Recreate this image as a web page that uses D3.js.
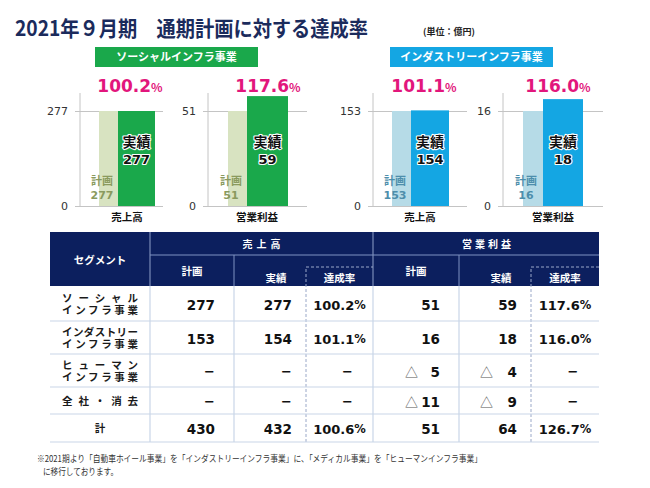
<!DOCTYPE html>
<html><head><meta charset="utf-8">
<script src="https://cdn.jsdelivr.net/npm/d3@7"></script>
<style>
html,body{margin:0;padding:0;background:#fff;}
svg{display:block;font-family:"Noto Sans CJK JP","Noto Sans",sans-serif;}
</style></head>
<body><svg id="c" width="650" height="488"></svg>
<script>
// ---------- data ----------
const titleText = "2021年９月期　通期計画に対する達成率";
const unitText = "(単位：億円)";
const segmentNames = ["ソーシャルインフラ事業", "インダストリーインフラ事業"];
const metricNames = ["売上高", "営業利益", "売上高", "営業利益"];
const planValues = [277, 51, 153, 16];
const actualValues = [277, 59, 154, 18];
const rateValues = ["100.2", "117.6", "101.1", "116.0"];

const rowLabels = [["ソーシャル", "インフラ事業"], ["インダストリー", "インフラ事業"], ["ヒューマン", "インフラ事業"], ["全社・消去"], ["計"]];
const salesPlan = [277, 153, null, null, 430];
const salesActual = [277, 154, null, null, 432];
const salesRate = ["100.2%", "101.1%", null, null, "100.6%"];
const opPlan = [51, 16, -5, -11, 51];
const opActual = [59, 18, -4, -9, 64];
const opRate = ["117.6%", "116.0%", null, null, "126.7%"];
const footnoteLines = ["※2021期より「自動車ホイール事業」を「インダストリーインフラ事業」に、「メディカル事業」を「ヒューマンインフラ事業」", "に移行しております。"];

// ---------- styles ----------
const navy = "#0c1f5e", pink = "#e2167c";
const green = "#1aa84b", greenLight = "#d8e3c1", greenText = "#8a9a5e";
const blue = "#14a6e3", blueLight = "#b6dbe7", blueText = "#4d8eab";
const numFont = "'DejaVu Sans', Verdana, sans-serif";

const svg = d3.select("#c");

// title
svg.append("text").attr("x", 15).attr("y", 36).attr("font-size", 21).attr("font-weight", 700)
  .attr("fill", "#1b2b5c").attr("textLength", 353).attr("lengthAdjust", "spacingAndGlyphs").text(titleText);
svg.append("text").attr("x", 423).attr("y", 35).attr("font-size", 9).attr("font-weight", 700)
  .attr("fill", "#222").attr("textLength", 52).attr("lengthAdjust", "spacingAndGlyphs").text(unitText);

// segment label boxes
const boxes = [{x: 95, color: green}, {x: 390, color: blue}];
boxes.forEach((b, i) => {
  svg.append("rect").attr("x", b.x).attr("y", 47).attr("width", 163).attr("height", 20).attr("fill", b.color);
  svg.append("text").attr("x", b.x + 81.5).attr("y", 61).attr("text-anchor", "middle")
    .attr("font-size", 11).attr("font-weight", 700).attr("fill", "#fff").text(segmentNames[i]);
});

// panels
const panels = [
  {axisX: 80, gridEnd: 163, planX: 99, planW: 19, actW: 37, pctX: 130, catX: 127, seg: 0},
  {axisX: 208, gridEnd: 307, planX: 228, planW: 19, actW: 41, pctX: 268, catX: 257, seg: 0},
  {axisX: 373, gridEnd: 467, planX: 392, planW: 19, actW: 38, pctX: 424, catX: 420, seg: 1},
  {axisX: 503, gridEnd: 603, planX: 523, planW: 20, actW: 40, pctX: 558, catX: 553, seg: 1}
];
panels.forEach((p, i) => {
  const g = svg.append("g");
  const y = d3.scaleLinear().domain([0, planValues[i]]).range([206, 111]);
  const dark = p.seg === 0 ? green : blue;
  const light = p.seg === 0 ? greenLight : blueLight;
  const ptxt = p.seg === 0 ? greenText : blueText;
  const gridStart = p.axisX - 5;
  const ax = g.append("g").attr("transform", `translate(${gridStart},0)`)
    .call(d3.axisLeft(y).tickValues([0, planValues[i]]).tickSize(-(p.gridEnd - gridStart)).tickPadding(7));
  ax.select(".domain").remove();
  ax.selectAll("line").attr("stroke", "#c4c4c4");
  ax.selectAll("text").attr("font-family", numFont).attr("font-size", 11).attr("fill", "#333");
  g.append("line").attr("x1", p.axisX).attr("x2", p.axisX).attr("y1", 93).attr("y2", 206).attr("stroke", "#c4c4c4");
  // bars
  g.append("rect").attr("x", p.planX).attr("width", p.planW)
    .attr("y", y(planValues[i])).attr("height", y(0) - y(planValues[i])).attr("fill", light);
  g.append("rect").attr("x", p.planX + p.planW).attr("width", p.actW)
    .attr("y", y(actualValues[i])).attr("height", y(0) - y(actualValues[i])).attr("fill", dark);
  // pct
  const t = g.append("text").attr("x", p.pctX).attr("y", 92).attr("text-anchor", "middle")
    .attr("fill", pink).attr("font-weight", 700).attr("font-family", numFont);
  t.append("tspan").attr("font-size", 17).text(rateValues[i]);
  t.append("tspan").attr("font-size", 12).attr("font-family", "'Noto Sans CJK JP'").text("%");
  // inner labels
  const ac = p.planX + p.planW + p.actW / 2;
  [["実績", 147, "'Noto Sans CJK JP'", 14], [String(actualValues[i]), 164, numFont, 13]].forEach(([s, yy, f, fs]) => {
    g.append("text").attr("x", ac).attr("y", yy).attr("text-anchor", "middle").attr("font-size", fs)
      .attr("font-weight", 700).attr("font-family", f).attr("fill", "#111")
      .attr("stroke", "#fff").attr("stroke-width", 2.2).attr("paint-order", "stroke").attr("stroke-linejoin", "round").text(s);
  });
  [["計画", 185, "'Noto Sans CJK JP'"], [String(planValues[i]), 199, numFont]].forEach(([s, yy, f]) => {
    g.append("text").attr("x", p.planX + 3).attr("y", yy).attr("text-anchor", "middle").attr("font-size", 11)
      .attr("font-weight", 700).attr("font-family", f).attr("fill", ptxt).text(s);
  });
  g.append("text").attr("x", p.catX).attr("y", 221).attr("text-anchor", "middle").attr("font-size", 10.5)
    .attr("font-weight", 700).attr("fill", "#111").text(metricNames[i]);
});

// ---------- table ----------
const colX = [50, 150, 234, 306, 373, 459, 531, 599];
const rowY = [286, 321, 354, 387, 414, 442];
const tTop = 232, tMid = 255;
const lineC = "#c9d5e8";
const tg = svg.append("g");
tg.append("rect").attr("x", colX[0]).attr("y", tTop).attr("width", colX[7] - colX[0]).attr("height", rowY[0] - tTop).attr("fill", navy);
// header lines
tg.append("line").attr("x1", colX[1]).attr("x2", colX[1]).attr("y1", tTop).attr("y2", rowY[0]).attr("stroke", "#8ea0c8");
tg.append("line").attr("x1", colX[4]).attr("x2", colX[4]).attr("y1", tTop).attr("y2", rowY[0]).attr("stroke", "#8ea0c8");
tg.append("line").attr("x1", colX[1]).attr("x2", colX[7]).attr("y1", tMid).attr("y2", tMid).attr("stroke", "#7f93c2");
[2, 5].forEach(c => tg.append("line").attr("x1", colX[c]).attr("x2", colX[c]).attr("y1", tMid).attr("y2", rowY[0]).attr("stroke", "#7f93c2"));
// dashed boxes for 達成率
[3, 6].forEach(c => {
  const xr = c === 3 ? colX[4] : colX[7];
  tg.append("path").attr("d", `M${colX[c]},${rowY[rowY.length - 1]}V267H${xr}`).attr("fill", "none")
    .attr("stroke", "#9aa8c8").attr("stroke-dasharray", "3,2");
});
// header texts
const ht = (x, y, s, size, ls) => tg.append("text").attr("x", x).attr("y", y).attr("text-anchor", "middle")
  .attr("dominant-baseline", "central").attr("font-size", size).attr("font-weight", 700).attr("fill", "#fff")
  .attr("letter-spacing", ls || 0).text(s);
ht(100, 259, "セグメント", 10.5);
ht((colX[1] + colX[4]) / 2 + 2, 243, "売上高", 10, 4);
ht((colX[4] + colX[7]) / 2 + 2, 243, "営業利益", 10, 3);
[1, 4].forEach(c => {
  ht((colX[c] + colX[c + 1]) / 2, 270, "計画", 10.5);
  ht((colX[c + 1] + colX[c + 2]) / 2 + 6, 277, "実績", 10.5);
  ht((colX[c + 2] + colX[c + 3]) / 2, 277, "達成率", 10.5);
});
// body lines
rowY.slice(1).forEach(yy => tg.append("line").attr("x1", colX[0]).attr("x2", colX[7]).attr("y1", yy).attr("y2", yy).attr("stroke", lineC).attr("stroke-width", 1.2));
[1, 2, 4, 5].forEach(c => tg.append("line").attr("x1", colX[c]).attr("x2", colX[c]).attr("y1", rowY[0]).attr("y2", rowY[5]).attr("stroke", lineC).attr("stroke-width", 1.2));

// rows
const rows = rowLabels.map((lab, i) => ({lab, i, cy: (rowY[i] + rowY[i + 1]) / 2}));
const rg = tg.selectAll("g.row").data(rows).join("g").attr("class", "row");
rg.each(function (d) {
  const g = d3.select(this);
  const n = d.lab.length;
  const lt = g.append("text").attr("font-size", 10.5).attr("font-weight", 700).attr("fill", "#1a1a1a");
  d.lab.forEach((s, k) => {
    const yy = n === 1 ? d.cy + 4 : d.cy - 2 + k * 12;
    const ts = lt.append("tspan").attr("y", yy).text(s);
    if (s === "計") { lt.attr("text-anchor", "middle"); ts.attr("x", 100); }
    else ts.attr("x", 62).attr("textLength", 76).attr("lengthAdjust", "spacing");
  });
  const dash = (x, anchor) => g.append("text").attr("x", x).attr("y", d.cy + 1).attr("text-anchor", anchor)
    .attr("dominant-baseline", "central").attr("font-size", 13).attr("font-weight", 700)
    .attr("font-family", numFont).attr("fill", "#111").text("\u2212");
  const numCell = (v, colStart, colEnd, pad, triOff) => {
    if (v === null) { dash(colEnd - pad, "end"); return; }
    g.append("text").attr("x", colEnd - pad).attr("y", d.cy + 1).attr("text-anchor", "end").attr("dominant-baseline", "central")
      .attr("font-size", 13.5).attr("font-weight", 700).attr("font-family", numFont).attr("fill", "#111").text(Math.abs(v));
    if (v < 0) {
      g.append("text").attr("x", colStart + triOff).attr("y", d.cy + 1).attr("dominant-baseline", "central")
        .attr("font-size", 13).attr("fill", "#555").text("△");
    }
  };
  const rateCell = (v, colStart, colEnd) => {
    const c = (colStart + colEnd) / 2;
    if (v === null) { dash(c + 8, "middle"); return; }
    const t = g.append("text").attr("x", c).attr("y", d.cy + 1).attr("text-anchor", "middle")
      .attr("dominant-baseline", "central").attr("font-weight", 700).attr("font-family", numFont).attr("fill", "#111");
    t.append("tspan").attr("font-size", 13).text(v.slice(0, -1));
    t.append("tspan").attr("font-size", 11.5).text("%");
  };
  numCell(salesPlan[d.i], colX[1], colX[2], 19, 32);
  numCell(salesActual[d.i], colX[2], colX[3], 14, 21);
  rateCell(salesRate[d.i], colX[3], colX[4]);
  numCell(opPlan[d.i], colX[4], colX[5], 19, 32);
  numCell(opActual[d.i], colX[5], colX[6], 14, 21);
  rateCell(opRate[d.i], colX[6], colX[7]);
});

// footnote
svg.append("text").attr("x", 37).attr("y", 462).attr("font-size", 9).attr("fill", "#333")
  .attr("textLength", 445).attr("lengthAdjust", "spacingAndGlyphs").text(footnoteLines[0]);
svg.append("text").attr("x", 43).attr("y", 475).attr("font-size", 9).attr("fill", "#333")
  .attr("textLength", 75).attr("lengthAdjust", "spacingAndGlyphs").text(footnoteLines[1]);
</script></body></html>
